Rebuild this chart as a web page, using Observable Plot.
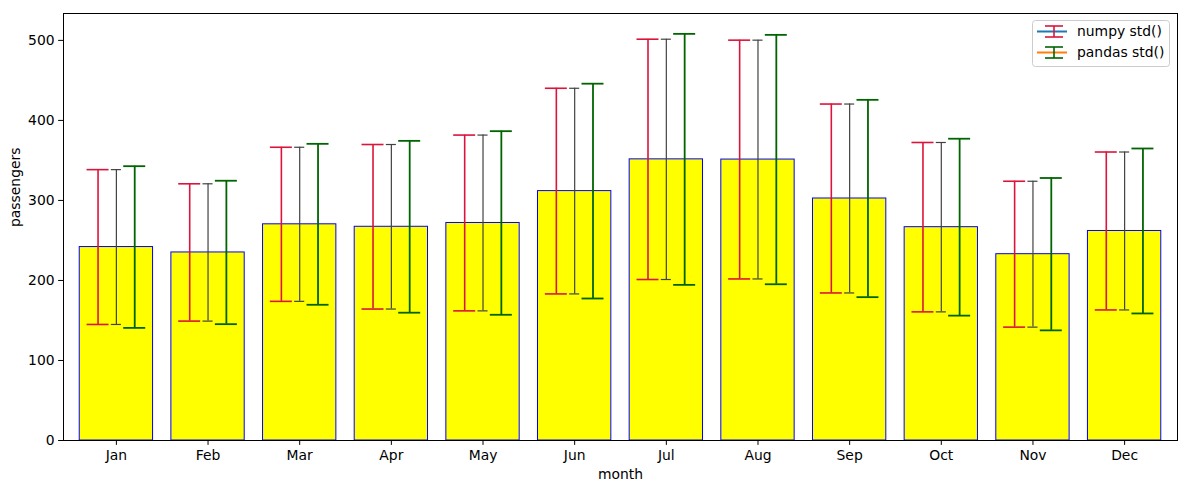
<!DOCTYPE html>
<html><head><meta charset="utf-8">
<script src="https://cdn.jsdelivr.net/npm/d3@7"></script>
<script src="https://cdn.jsdelivr.net/npm/@observablehq/plot@0.6"></script>
<style>
body{margin:0;background:#fff;font-family:"DejaVu Sans",sans-serif;}
#wrap{position:relative;width:1188px;height:488px;}
#legend{position:absolute;left:1032px;top:20px;}
</style></head><body><div id="wrap"></div>
<script>
const months = ["Jan","Feb","Mar","Apr","May","Jun","Jul","Aug","Sep","Oct","Nov","Dec"];
const means = [241.75, 235.0, 270.17, 267.08, 271.83, 311.67, 351.33, 351.08, 302.42, 266.58, 232.83, 261.83];
const numpyStd = [96.74, 85.79, 96.28, 102.80, 109.84, 128.50, 150.15, 149.20, 118.04, 105.83, 91.15, 98.68];
const pandasStd = [101.04, 89.61, 100.56, 107.37, 114.72, 134.22, 156.83, 155.83, 123.29, 110.54, 95.20, 103.07];
const yTicks = [0, 100, 200, 300, 400, 500];
const legendLabels = ["numpy std()", "pandas std()"];

const rows = months.map((m, i) => ({i, m, mean: means[i], np: numpyStd[i], pd: pandasStd[i]}));
const HALF = 0.4, OFF = 0.2, CAP = 0.12, CAPG = 0.055;

function errMarks(offset, key, color, sw, cap) {
  return [
    Plot.ruleX(rows, {x: d => d.i + offset, y1: d => d.mean - d[key], y2: d => d.mean + d[key], stroke: color, strokeWidth: sw}),
    Plot.ruleY(rows, {y: d => d.mean - d[key], x1: d => d.i + offset - cap, x2: d => d.i + offset + cap, stroke: color, strokeWidth: sw}),
    Plot.ruleY(rows, {y: d => d.mean + d[key], x1: d => d.i + offset - cap, x2: d => d.i + offset + cap, stroke: color, strokeWidth: sw})
  ];
}

const chart = Plot.plot({
  width: 1188, height: 488,
  marginLeft: 63, marginRight: 11, marginTop: 13, marginBottom: 48,
  style: {fontFamily: "DejaVu Sans", fontSize: "13.9px", background: "white", color: "black"},
  x: {type: "linear", domain: [-0.577, 11.577]},
  y: {domain: [0, 533.6]},
  marks: [
    Plot.rectY(rows, {x1: d => d.i - HALF, x2: d => d.i + HALF, y1: 0, y2: "mean", fill: "yellow", stroke: "blue", strokeWidth: 1}),
    ...errMarks(-OFF, "np", "#dc143c", 1.6, CAP),
    ...errMarks(0, "np", "#424242", 1.2, CAPG),
    ...errMarks(OFF, "pd", "#006400", 1.8, CAP),
    Plot.frame({stroke: "black", strokeWidth: 1}),
    Plot.axisX({ticks: months.map((_, i) => i), tickFormat: i => months[i], tickSize: 4.9, tickPadding: 4.5, label: null, fontSize: "13.9px"}),
    Plot.axisY({ticks: yTicks, tickSize: 4.9, tickPadding: 4, label: null, fontSize: "13.9px"}),
    Plot.text(["month"], {frameAnchor: "bottom", text: d => d, dy: 38, fill: "black", fontSize: "13.9px"}),
    Plot.text(["passengers"], {frameAnchor: "left", text: d => d, rotate: -90, dx: -48, fill: "black", fontSize: "13.9px"})
  ]
});
const wrap = document.getElementById("wrap");
wrap.appendChild(chart);

// legend
const lg = d3.create("svg").attr("id", "legend").attr("width", 140).attr("height", 48)
  .style("font-family", "DejaVu Sans").style("font-size", "13.9px");
lg.append("rect").attr("x", 0.5).attr("y", 0.5).attr("width", 137).attr("height", 46).attr("rx", 3)
  .attr("fill", "white").attr("fill-opacity", 0.8).attr("stroke", "#cccccc");
const entries = [
  {label: legendLabels[0], line: "#1f77b4", err: "#dc143c", y: 11.5},
  {label: legendLabels[1], line: "#ff7f0e", err: "#006400", y: 32.5}
];
for (const e of entries) {
  const g = lg.append("g");
  g.append("line").attr("x1", 5).attr("x2", 35).attr("y1", e.y).attr("y2", e.y).attr("stroke", e.line).attr("stroke-width", 2);
  g.append("line").attr("x1", 22).attr("x2", 22).attr("y1", e.y - 5.5).attr("y2", e.y + 5.5).attr("stroke", e.err).attr("stroke-width", 1.6);
  g.append("line").attr("x1", 13).attr("x2", 31).attr("y1", e.y - 5.5).attr("y2", e.y - 5.5).attr("stroke", e.err).attr("stroke-width", 1.6);
  g.append("line").attr("x1", 13).attr("x2", 31).attr("y1", e.y + 5.5).attr("y2", e.y + 5.5).attr("stroke", e.err).attr("stroke-width", 1.6);
  g.append("text").attr("x", 45).attr("y", e.y).attr("dy", "0.35em").attr("fill", "black").text(e.label);
}
wrap.appendChild(lg.node());
</script></body></html>
